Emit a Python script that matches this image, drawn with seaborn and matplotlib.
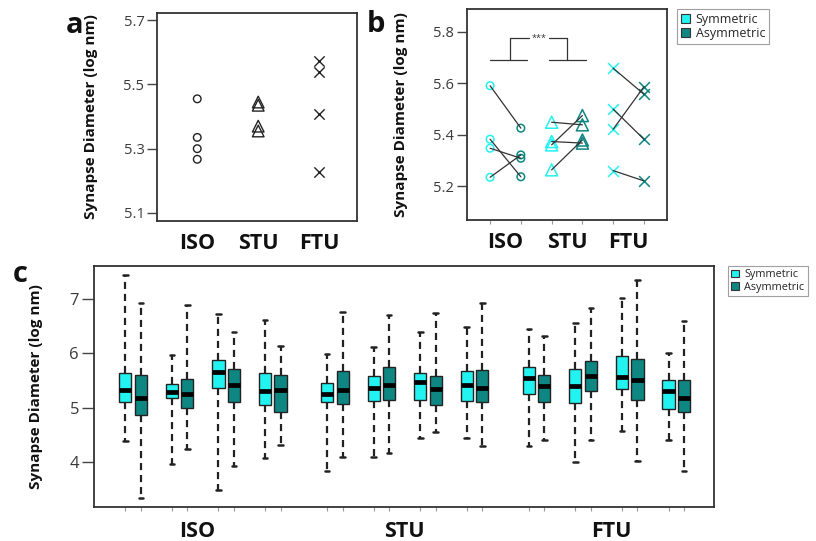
import numpy as np
import pandas as pd
import matplotlib
matplotlib.use("Agg")
import matplotlib.pyplot as plt
import matplotlib.transforms as mtransforms
from matplotlib.patches import Patch
import seaborn as sns

# ---------------- data ----------------
groups = ["ISO", "STU", "FTU"]
types = ["Symmetric", "Asymmetric"]

# panel a: mean synapse diameter per animal
a_iso = [5.455, 5.335, 5.300, 5.267]
a_stu = [5.445, 5.435, 5.370, 5.355]
a_ftu = [5.572, 5.540, 5.408, 5.227]

# panel b: per animal, symmetric vs asymmetric
b_iso_sym = [5.590, 5.382, 5.347, 5.234]
b_iso_asym = [5.425, 5.236, 5.308, 5.321]
b_stu_sym = [5.448, 5.360, 5.373, 5.263]
b_stu_asym = [5.438, 5.474, 5.367, 5.379]
b_ftu_sym = [5.658, 5.499, 5.421, 5.260]
b_ftu_asym = [5.557, 5.382, 5.586, 5.220]

# panel c: box statistics, order: ISO1 sym, ISO1 asym, ISO2 sym, ... FTU4 asym
c_whislo = [4.38, 3.35, 3.97, 4.24, 3.49, 3.93, 4.07, 4.31,
            3.83, 4.09, 4.09, 4.17, 4.44, 4.55, 4.44, 4.29,
            4.29, 4.41, 4.00, 4.41, 4.58, 4.02, 4.41, 3.83]
c_q1 = [5.10, 4.86, 5.17, 5.00, 5.37, 5.10, 5.05, 4.93,
        5.10, 5.06, 5.12, 5.15, 5.15, 5.05, 5.13, 5.10,
        5.25, 5.10, 5.08, 5.30, 5.34, 5.15, 4.98, 4.92]
c_med = [5.32, 5.18, 5.29, 5.25, 5.66, 5.41, 5.30, 5.32,
         5.25, 5.32, 5.37, 5.41, 5.47, 5.34, 5.42, 5.37,
         5.54, 5.40, 5.40, 5.59, 5.57, 5.51, 5.30, 5.18]
c_q3 = [5.63, 5.60, 5.44, 5.53, 5.87, 5.72, 5.63, 5.60,
        5.46, 5.67, 5.58, 5.75, 5.63, 5.58, 5.68, 5.70,
        5.75, 5.61, 5.72, 5.85, 5.95, 5.89, 5.51, 5.51]
c_whishi = [7.44, 6.93, 5.97, 6.88, 6.72, 6.40, 6.61, 6.14,
            5.99, 6.76, 6.11, 6.71, 6.40, 6.74, 6.48, 6.93,
            6.45, 6.31, 6.55, 6.84, 7.02, 7.34, 6.01, 6.60]

sym_color = "#22F2F0"
asym_color = "#0E8682"
palette = {"Symmetric": sym_color, "Asymmetric": asym_color}

# ---------------- style ----------------
sns.set_theme(style="white")
plt.rcParams["font.family"] = ["Open Sans", "DejaVu Sans"]
plt.rcParams["axes.edgecolor"] = "#333333"
plt.rcParams["axes.linewidth"] = 1.3
tick_col = "#3a3a3a"

fig = plt.figure(figsize=(8.16, 5.41), dpi=100)
axa = fig.add_axes([157/816, 1-221/541, 200/816, 208/541])
axb = fig.add_axes([466.7/816, 1-220/541, 200/816, 210.7/541])
axc = fig.add_axes([94.3/816, 1-507.3/541, 620/816, 241.6/541])

ylab = "Synapse Diameter (log nm)"

def style_axis(ax, ylen):
    for s in ax.spines.values():
        s.set_visible(True)
        s.set_color("#333333")
        s.set_linewidth(1.3)
    ax.tick_params(axis="y", which="major", direction="out", length=ylen, width=1.0,
                   color="#444444", labelcolor=tick_col, labelsize=10.5, pad=2, left=True)
    ax.set_ylabel(ylab, fontsize=11, fontweight="bold", color="#111111")
    ax.set_xlabel("")

# ---------------- panel a ----------------
for xi, vals, mk, s in [(0, a_iso, "o", 30), (1, a_stu, "^", 70), (2, a_ftu, "x", 55)]:
    df = pd.DataFrame({"x": [xi] * len(vals), "y": vals})
    if mk == "x":
        sns.scatterplot(data=df, x="x", y="y", marker=mk, s=s, color="#222222",
                        linewidth=1.0, ax=axa)
    else:
        sns.scatterplot(data=df, x="x", y="y", marker=mk, s=s, facecolor="none",
                        edgecolor="#222222", linewidth=1.0, ax=axa)
axa.set_xlim(-0.66, 2.62)
axa.set_ylim(5.075, 5.722)
axa.set_yticks([5.1, 5.3, 5.5, 5.7])
axa.set_yticklabels(["5.1", "5.3", "5.5", "5.7"])
axa.set_xticks([])
style_axis(axa, 7)
axa.yaxis.set_label_coords(-0.295, 0.5)
trA = mtransforms.blended_transform_factory(axa.transData, axa.transAxes)
for i, g in enumerate(groups):
    axa.text(i, -0.106, g, transform=trA, ha="center", va="center",
             fontsize=15.5, fontweight="bold", color="#111111")

# ---------------- panel b ----------------
b_sym = [b_iso_sym, b_stu_sym, b_ftu_sym]
b_asym = [b_iso_asym, b_stu_asym, b_ftu_asym]
rows = []
for gi, g in enumerate(groups):
    for k in range(4):
        rows.append(dict(group=g, animal=f"{g}{k}", type="Symmetric", x=2*gi, y=b_sym[gi][k]))
        rows.append(dict(group=g, animal=f"{g}{k}", type="Asymmetric", x=2*gi+1, y=b_asym[gi][k]))
dfb = pd.DataFrame(rows)
markers_b = {"ISO": ("o", 30), "STU": ("^", 75), "FTU": ("x", 60)}
for g in groups:
    mk, s = markers_b[g]
    for t in types:
        sub = dfb[(dfb.group == g) & (dfb.type == t)]
        if mk == "x":
            sns.scatterplot(data=sub, x="x", y="y", marker=mk, s=s, color=palette[t],
                            linewidth=1.1, ax=axb, zorder=2)
        else:
            sns.scatterplot(data=sub, x="x", y="y", marker=mk, s=s, facecolor="none",
                            edgecolor=palette[t], linewidth=1.1, ax=axb, zorder=2)
sns.lineplot(data=dfb, x="x", y="y", units="animal", estimator=None, color="#333333",
             linewidth=0.9, ax=axb, zorder=3, legend=False)
axb.set_xlim(-0.76, 5.74)
axb.set_ylim(5.068, 5.887)
axb.set_yticks([5.2, 5.4, 5.6, 5.8])
axb.set_yticklabels(["5.2", "5.4", "5.6", "5.8"])
axb.set_xticks(range(6))
axb.set_xticklabels([])
axb.tick_params(axis="x", direction="out", length=3, width=0.8, color="#999999", bottom=True)
style_axis(axb, 7)
axb.yaxis.set_label_coords(-0.293, 0.5)
trB = mtransforms.blended_transform_factory(axb.transData, axb.transAxes)
for i, g in enumerate(groups):
    axb.text(2*i + 0.5, -0.109, g, transform=trB, ha="center", va="center",
             fontsize=15.5, fontweight="bold", color="#111111")
# significance bracket
bk = dict(color="#333333", linewidth=0.9)
axb.plot([0.0, 1.19], [5.690, 5.690], **bk)
axb.plot([1.92, 3.11], [5.690, 5.690], **bk)
axb.plot([0.65, 0.65], [5.690, 5.774], **bk)
axb.plot([2.51, 2.51], [5.690, 5.774], **bk)
axb.plot([0.65, 1.27], [5.774, 5.774], **bk)
axb.plot([1.92, 2.51], [5.774, 5.774], **bk)
axb.text(1.6, 5.774, "***", ha="center", va="center", fontsize=6.5, color="#333333")

leg_handles = [Patch(facecolor=sym_color, edgecolor="#333333", linewidth=0.8, label="Symmetric"),
               Patch(facecolor=asym_color, edgecolor="#333333", linewidth=0.8, label="Asymmetric")]
leg_kw = dict(frameon=True, fancybox=False, edgecolor="#888888",
              handlelength=0.75, handleheight=0.75, handletextpad=0.45,
              borderpad=0.3, labelspacing=0.12, borderaxespad=0)
lb = fig.legend(handles=leg_handles, loc="upper left", fontsize=9,
                bbox_to_anchor=(677/816, 1-9/541), **leg_kw)
lb.get_frame().set_linewidth(0.8)

# ---------------- panel c ----------------
crow = []
for k in range(24):
    g = k // 8
    an = (k % 8) // 2
    t = k % 2
    pos = g * 13 + an * 3 + t
    for v in (c_whislo[k], c_q1[k], c_med[k], c_q3[k], c_whishi[k]):
        crow.append(dict(pos=pos, type=types[t], value=v, group=groups[g]))
dfc = pd.DataFrame(crow)
sns.boxplot(data=dfc, x="pos", y="value", hue="type", hue_order=types, palette=palette,
            native_scale=True, dodge=False, width=0.78, whis=(0, 100), showfliers=False,
            saturation=1, linecolor="#222222", linewidth=1.0, legend=False, ax=axc,
            medianprops=dict(color="black", linewidth=3.4),
            whiskerprops=dict(color="#222222", linestyle=(0, (3.2, 2.2)), linewidth=1.6),
            capprops=dict(color="#222222", linewidth=1.8),
            capwidths=0.3)
axc.set_xlim(-2.0, 37.95)
axc.set_ylim(3.17, 7.61)
axc.set_yticks([4, 5, 6, 7])
axc.set_yticklabels(["4", "5", "6", "7"])
axc.set_xticks(sorted(dfc.pos.unique()))
axc.set_xticklabels([])
axc.tick_params(axis="x", direction="out", length=3, width=0.8, color="#999999", bottom=True)
style_axis(axc, 9)
axc.tick_params(axis="y", labelsize=12)
axc.yaxis.set_label_coords(-0.083, 0.5)
trC = mtransforms.blended_transform_factory(axc.transData, axc.transAxes)
for xpos, g in zip([4.6, 18.0, 31.3], groups):
    axc.text(xpos, -0.101, g, transform=trC, ha="center", va="center",
             fontsize=15.5, fontweight="bold", color="#111111")
lc = fig.legend(handles=leg_handles, loc="upper left", fontsize=7.8,
                bbox_to_anchor=(728/816, 1-266/541), **leg_kw)
lc.get_frame().set_linewidth(0.8)

# panel letters
for x, y, s in [(74.5, 33, "a"), (376, 32, "b"), (20, 282, "c")]:
    fig.text(x/816, 1-y/541, s, ha="center", va="baseline", fontsize=21,
             fontweight="bold", color="#111111")

fig.savefig("out.png", dpi=100)
